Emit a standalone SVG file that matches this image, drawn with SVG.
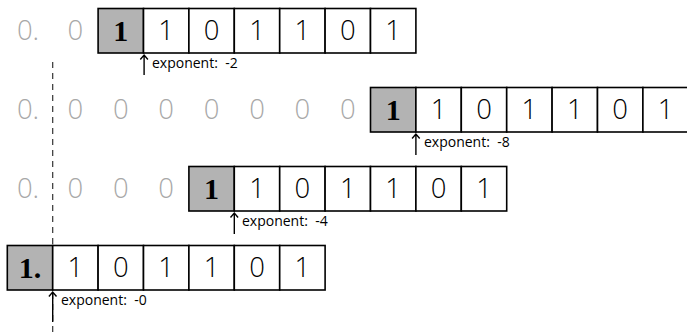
<svg xmlns="http://www.w3.org/2000/svg" width="687" height="336" viewBox="0 0 687 336">
<style>
.c{fill:#fff;stroke:#000;stroke-width:1.6}
.g{fill:#b3b3b3;stroke:#000;stroke-width:1.6}
.d{font-family:"Open Sans","DejaVu Sans",sans-serif;font-weight:300;font-size:27.5px;text-anchor:middle;fill:#000}
.z{font-family:"Open Sans","DejaVu Sans",sans-serif;font-weight:300;font-size:27.5px;text-anchor:middle;fill:#a8a8a8}
.b{font-family:"Liberation Serif",serif;font-weight:bold;font-size:30px;text-anchor:middle;fill:#000}
.e{font-family:"Open Sans","DejaVu Sans",sans-serif;font-size:14px;fill:#000;white-space:pre}
.a{fill:none;stroke:#000;stroke-width:1.4}
.dash{fill:none;stroke:#333;stroke-width:1.2;stroke-dasharray:6 5}
</style>
<g id="connectors">
<path class="dash" d="M52.7 62V336"/>
<path class="a" d="M144.1 55V75M140.3 59.5L144.1 55L147.9 59.5"/>
<path class="a" d="M415.9 134V155M412.1 138.5L415.9 134L419.7 138.5"/>
<path class="a" d="M234.3 213V234M230.5 217.5L234.3 213L238.1 217.5"/>
<path class="a" d="M52.7 292V322M48.9 296.5L52.7 292L56.5 296.5"/>
</g>
<g id="row1">
<text class="z" x="28" y="40">0.</text>
<text class="z" x="75.4" y="40">0</text>
<rect class="g" x="98.1" y="8.5" width="45.4" height="44.5"/>
<rect class="c" x="143.5" y="8.5" width="45.4" height="44.5"/>
<rect class="c" x="188.9" y="8.5" width="45.4" height="44.5"/>
<rect class="c" x="234.3" y="8.5" width="45.4" height="44.5"/>
<rect class="c" x="279.7" y="8.5" width="45.4" height="44.5"/>
<rect class="c" x="325.1" y="8.5" width="45.4" height="44.5"/>
<rect class="c" x="370.5" y="8.5" width="45.4" height="44.5"/>
<text class="b" x="120.8" y="40.5">1</text>
<text class="d" x="166.2" y="40">1</text>
<text class="d" x="211.6" y="40">0</text>
<text class="d" x="257" y="40">1</text>
<text class="d" x="302.4" y="40">1</text>
<text class="d" x="347.8" y="40">0</text>
<text class="d" x="393.2" y="40">1</text>
<text class="e" x="152" y="68" xml:space="preserve">exponent:  -2</text>
</g>
<g id="row2">
<text class="z" x="28" y="119">0.</text>
<text class="z" x="75.4" y="119">0</text>
<text class="z" x="120.8" y="119">0</text>
<text class="z" x="166.2" y="119">0</text>
<text class="z" x="211.6" y="119">0</text>
<text class="z" x="257" y="119">0</text>
<text class="z" x="302.4" y="119">0</text>
<text class="z" x="347.8" y="119">0</text>
<rect class="g" x="370.5" y="87.5" width="45.4" height="44.5"/>
<rect class="c" x="415.9" y="87.5" width="45.4" height="44.5"/>
<rect class="c" x="461.3" y="87.5" width="45.4" height="44.5"/>
<rect class="c" x="506.7" y="87.5" width="45.4" height="44.5"/>
<rect class="c" x="552.1" y="87.5" width="45.4" height="44.5"/>
<rect class="c" x="597.5" y="87.5" width="45.4" height="44.5"/>
<rect class="c" x="642.9" y="87.5" width="45.4" height="44.5"/>
<text class="b" x="393.2" y="119.5">1</text>
<text class="d" x="438.6" y="119">1</text>
<text class="d" x="484" y="119">0</text>
<text class="d" x="529.4" y="119">1</text>
<text class="d" x="574.8" y="119">1</text>
<text class="d" x="620.2" y="119">0</text>
<text class="d" x="665.6" y="119">1</text>
<text class="e" x="424" y="147" xml:space="preserve">exponent:  -8</text>
</g>
<g id="row3">
<text class="z" x="28" y="198">0.</text>
<text class="z" x="75.4" y="198">0</text>
<text class="z" x="120.8" y="198">0</text>
<text class="z" x="166.2" y="198">0</text>
<rect class="g" x="188.9" y="166.5" width="45.4" height="44.5"/>
<rect class="c" x="234.3" y="166.5" width="45.4" height="44.5"/>
<rect class="c" x="279.7" y="166.5" width="45.4" height="44.5"/>
<rect class="c" x="325.1" y="166.5" width="45.4" height="44.5"/>
<rect class="c" x="370.5" y="166.5" width="45.4" height="44.5"/>
<rect class="c" x="415.9" y="166.5" width="45.4" height="44.5"/>
<rect class="c" x="461.3" y="166.5" width="45.4" height="44.5"/>
<text class="b" x="211.6" y="198.5">1</text>
<text class="d" x="257" y="198">1</text>
<text class="d" x="302.4" y="198">0</text>
<text class="d" x="347.8" y="198">1</text>
<text class="d" x="393.2" y="198">1</text>
<text class="d" x="438.6" y="198">0</text>
<text class="d" x="484" y="198">1</text>
<text class="e" x="242" y="226" xml:space="preserve">exponent:  -4</text>
</g>
<g id="row4">
<rect class="g" x="7.3" y="245.5" width="45.4" height="44.5"/>
<rect class="c" x="52.7" y="245.5" width="45.4" height="44.5"/>
<rect class="c" x="98.1" y="245.5" width="45.4" height="44.5"/>
<rect class="c" x="143.5" y="245.5" width="45.4" height="44.5"/>
<rect class="c" x="188.9" y="245.5" width="45.4" height="44.5"/>
<rect class="c" x="234.3" y="245.5" width="45.4" height="44.5"/>
<rect class="c" x="279.7" y="245.5" width="45.4" height="44.5"/>
<text class="b" x="30" y="277.5">1.</text>
<text class="d" x="75.4" y="277">1</text>
<text class="d" x="120.8" y="277">0</text>
<text class="d" x="166.2" y="277">1</text>
<text class="d" x="211.6" y="277">1</text>
<text class="d" x="257" y="277">0</text>
<text class="d" x="302.4" y="277">1</text>
<text class="e" x="61" y="305" xml:space="preserve">exponent:  -0</text>
</g>
</svg>
